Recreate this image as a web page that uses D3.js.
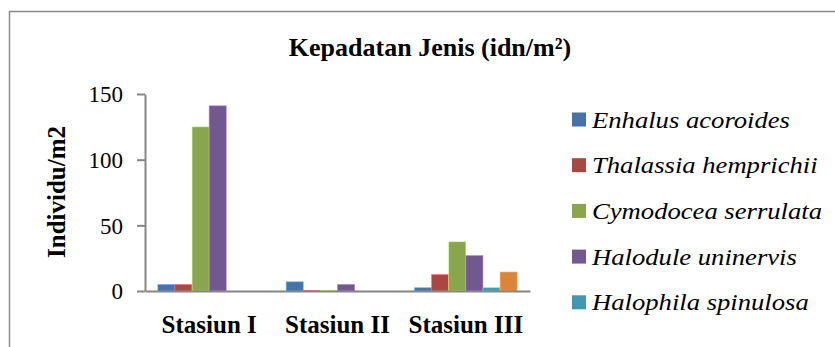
<!DOCTYPE html>
<html>
<head>
<meta charset="utf-8">
<script src="https://cdn.jsdelivr.net/npm/d3@7"></script>
<style>
  body { margin: 0; background: #fff; }
  text { font-family: "Liberation Serif", "Times New Roman", serif; fill: #000; }
</style>
</head>
<body>
<div id="container"></div>
<script>
let w = 835;
let h = 347;

// data
let stations = ['Stasiun I', 'Stasiun II', 'Stasiun III'];
let species = ['Enhalus acoroides', 'Thalassia hemprichii', 'Cymodocea serrulata',
  'Halodule uninervis', 'Halophila spinulosa', 'Syringodium isoetifolium'];
let enhalus = [5, 7, 2.5];
let thalassia = [5, 0.5, 12.5];
let cymodocea = [125, 0.5, 37.5];
let halodule = [141, 5, 27];
let halophila = [0, 0, 2.5];
let syringodium = [0, 0, 14.5];
let yTicks = [0, 50, 100, 150];

let colors = ['#4573a7', '#aa4643', '#89a54e', '#71588f', '#4198af', '#db843d'];
let series = [enhalus, thalassia, cymodocea, halodule, halophila, syringodium];

let viz = d3.select('#container')
  .append('svg')
    .attr('width', w)
    .attr('height', h)
    .style('background-color', 'white');

// chart area border (runs off the right and bottom edge)
viz.append('rect')
  .attr('x', 9.5).attr('y', 11.5)
  .attr('width', 900).attr('height', 400)
  .attr('fill', 'none')
  .attr('stroke', '#8a8a8a')
  .attr('stroke-width', 1.5);

viz.append('text')
  .attr('x', 430).attr('y', 55.5)
  .attr('text-anchor', 'middle')
  .style('font-size', '26px')
  .style('font-weight', 'bold')
  .text('Kepadatan Jenis (idn/m²)');

let plotLeft = 145, plotRight = 530, plotTop = 94, plotBottom = 291;

let xScale = d3.scaleBand().domain(stations).range([plotLeft, plotRight]).paddingInner(0.2).paddingOuter(0.1);
let xInner = d3.scaleBand().domain(d3.range(species.length)).range([0, xScale.bandwidth()]);
let yScale = d3.scaleLinear().domain([0, 150]).range([plotBottom, plotTop]);

// bars
series.forEach(function(vals, si){
  viz.append('g')
    .selectAll('rect')
    .data(vals)
    .enter()
    .append('rect')
      .attr('x', function(d, i){ return xScale(stations[i]) + xInner(si); })
      .attr('y', function(d){ return yScale(d); })
      .attr('width', xInner.bandwidth())
      .attr('height', function(d){ return plotBottom - yScale(d); })
      .attr('fill', colors[si])
      .attr('stroke', d3.color(colors[si]).brighter(1.2))
      .attr('stroke-width', 0.8)
      .attr('stroke-opacity', function(d){ return d > 0 ? 0.7 : 0; });
});

// y axis
let yAxis = d3.axisLeft(yScale).tickValues(yTicks).tickSize(8).tickSizeOuter(0).tickPadding(14);
let yAxisGroup = viz.append('g').attr('class', 'yaxis')
  .attr('transform', 'translate(' + plotLeft + ', 0)')
  .call(yAxis);
yAxisGroup.select('.domain').attr('stroke', '#868686').attr('stroke-width', 2);
yAxisGroup.selectAll('.tick line').attr('stroke', '#868686').attr('stroke-width', 2);
yAxisGroup.selectAll('.tick text')
  .style('font-family', '"Liberation Serif", serif')
  .style('font-size', '23px')
  .attr('dy', '0.34em');

// x axis
let xAxis = d3.axisBottom(xScale).tickSize(0).tickPadding(24);
let xAxisGroup = viz.append('g').attr('class', 'xaxis')
  .attr('transform', 'translate(0, ' + plotBottom + ')')
  .call(xAxis);
xAxisGroup.select('.domain').attr('stroke', '#868686').attr('stroke-width', 2);
xAxisGroup.selectAll('.tick text')
  .style('font-family', '"Liberation Serif", serif')
  .style('font-size', '25px')
  .style('font-weight', 'bold');

viz.append('text')
  .attr('transform', 'translate(65, 192) rotate(-90)')
  .attr('text-anchor', 'middle')
  .style('font-size', '25px')
  .style('font-weight', 'bold')
  .text('Individu/m2');

// legend - the sixth entry falls below the cropped edge in the reference, so only 5 show
let legend = viz.append('g').selectAll('g')
  .data(species.slice(0, 5))
  .enter()
  .append('g')
    .attr('transform', function(d, i){ return 'translate(572, ' + (127.5 + i * 45.7) + ')'; });

legend.append('rect')
  .attr('x', 0).attr('y', -15)
  .attr('width', 14).attr('height', 14)
  .attr('fill', function(d, i){ return colors[i]; });

legend.append('text')
  .attr('transform', 'translate(20, 0) scale(1.11, 1)')
  .style('font-size', '24px')
  .style('font-style', 'italic')
  .text(function(d){ return d; });
</script>
</body>
</html>
